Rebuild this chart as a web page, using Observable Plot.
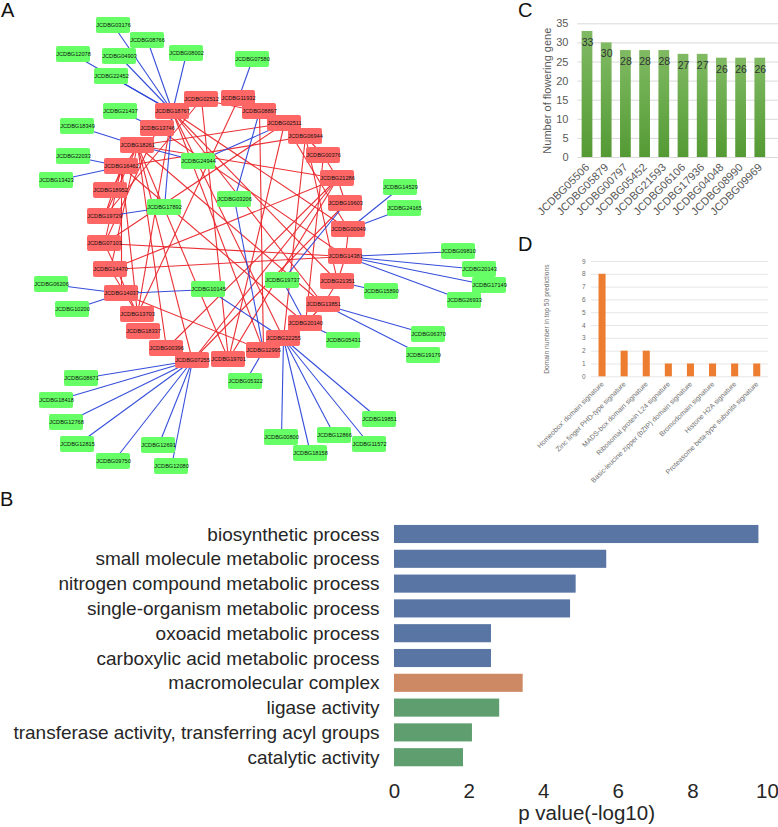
<!DOCTYPE html>
<html><head><meta charset="utf-8">
<style>
html,body{margin:0;padding:0;background:#fff}
#page{position:relative;width:778px;height:827px;overflow:hidden;font-family:"Liberation Sans",Arial,sans-serif}
.panel{position:absolute}
.panel svg{background:transparent!important;display:block}
.letter{position:absolute;font-size:20px;line-height:20px;color:#111}
</style>
<script src="https://cdn.jsdelivr.net/npm/d3@7"></script>
<script src="https://cdn.jsdelivr.net/npm/@observablehq/plot@0.6"></script>
</head><body><div id="page">
<div class="letter" style="left:1px;top:0">A</div>
<div class="letter" style="left:0px;top:489px">B</div>
<div class="letter" style="left:518px;top:0">C</div>
<div class="letter" style="left:518px;top:234px">D</div>
</div>
<script>
// Panel A: network, node layout
const hubNodes = [["02512",201,99],["11932",238,98],["18767",172,111],["13746",157,128],["18261",137,145],["16462",121,166],["18952",110,190],["19729",104,216],["07103",104,243],["14470",110,269],["14037",121,293],["13703",137,314],["18337",143,331],["00396",166,348],["07255",192,360],["19701",228,359],["12995",263,350],["22255",283,338],["20140",305,323],["13851",323,304],["21351",337,281],["14381",345,256],["00049",348,229],["19603",345,203],["21286",337,178],["00376",323,155],["06944",305,136],["02511",284,123],["08897",259,111]];
const leafNodes = [["03176",113,25],["08766",147,40],["04903",119,56],["08002",186,53],["12078",73,54],["22452",111,76],["07580",252,59],["21437",120,111],["18349",77,126],["22033",73,156],["13423",56,180],["24944",198,161],["17892",164,207],["03206",234,199],["06206",51,284],["10200",72,309],["10145",208,289],["08671",81,378],["18418",56,400],["12768",66,422],["12815",77,444],["09750",113,461],["12691",158,445],["12080",171,466],["05322",245,381],["09810",458,251],["20143",479,269],["17149",489,285],["26933",464,300],["15890",381,291],["19737",282,280],["05431",343,340],["06370",428,334],["19179",423,355],["19851",379,419],["12866",334,435],["11572",369,444],["00800",281,437],["18158",310,453],["14529",400,187],["24165",404,208]];
const blueEdges = [["03176","18767"],["08766","18767"],["04903","18767"],["08002","18767"],["22452","18767"],["12078","18767"],["07580","11932"],["21437","13746"],["18349","18261"],["22033","16462"],["13423","16462"],["24944","18261"],["24944","02511"],["17892","18767"],["17892","19729"],["03206","08897"],["03206","12995"],["06206","14037"],["10200","14037"],["10145","14037"],["10145","22255"],["08671","07255"],["18418","07255"],["12768","07255"],["12815","07255"],["09750","07255"],["12691","07255"],["12080","07255"],["05322","12995"],["09810","14381"],["20143","14381"],["17149","14381"],["26933","14381"],["15890","21351"],["06370","13851"],["19179","13851"],["05431","20140"],["19851","22255"],["12866","22255"],["11572","22255"],["00800","22255"],["18158","22255"],["14529","00049"],["24165","00049"],["19737","19603"],["19737","20140"]];
const redEdges = [["02512","08897"],["06944","00376"],["00376","21286"],["21286","19603"],["00049","14381"],["14381","21351"],["21351","13851"],["13851","20140"],["11932","13703"],["08897","12995"],["02511","19701"],["06944","22255"],["00376","20140"],["21286","07255"],["00396","21286"],["21286","14470"],["21286","18261"],["14381","07103"],["14381","14470"],["14037","12995"],["18261","02511"],["16462","06944"],["18261","19701"],["02512","19701"],["18261","07255"],["18261","00396"],["18767","12995"],["18767","00049"],["18261","13851"],["07103","02511"],["02511","00049"],["06944","21351"],["02512","19729"],["18767","13851"],["18767","21351"],["13746","14381"],["19701","21286"],["07255","19603"],["18261","19729"],["16462","19729"],["16462","07103"],["13746","07103"],["18261","14470"],["16462","14037"],["07103","13703"],["14470","13703"],["13703","18767"],["22255","18767"],["16462","20140"],["16462","13703"],["18952","18261"]];

// Panel B: enrichment
const goTerms = ["biosynthetic process","small molecule metabolic process","nitrogen compound metabolic process","single-organism metabolic process","oxoacid metabolic process","carboxylic acid metabolic process","macromolecular complex","ligase activity","transferase activity, transferring acyl groups","catalytic activity"];
const goValues = [9.77,5.69,4.87,4.72,2.6,2.6,3.45,2.82,2.09,1.85];
const goGroups = ["BP","BP","BP","BP","BP","BP","CC","MF","MF","MF"];
const goColors = {BP:"#5975a4",CC:"#cc8963",MF:"#5f9e6e"};

// Panel C: flowering genes
const geneIds = ["JCDBG05506","JCDBG05879","JCDBG00797","JCDBG05452","JCDBG21593","JCDBG06106","JCDBG17936","JCDBG04048","JCDBG08990","JCDBG09969"];
const geneCounts = [33,30,28,28,28,27,27,26,26,26];
const geneTicks = [0,5,10,15,20,25,30,35];

// Panel D: domains
const domainNames = ["Homeobox' domain signature","Zinc finger PHD-type signature","MADS-box domain signature","Ribosomal protein L24 signature","Basic-leucine zipper (bZIP) domain signature","Bromodomain signature","Histone H2A signature","Proteasome beta-type subunits signature"];
const domainCounts = [8,2,2,1,1,1,1,1];
const domainTicks = [0,1,2,3,4,5,6,7,8,9];

const FONT = '"Liberation Sans",Arial,sans-serif';
const page = document.getElementById("page");
function place(svg,left,top){const d=document.createElement("div");d.className="panel";d.style.left=left+"px";d.style.top=top+"px";d.appendChild(svg);page.appendChild(d);}

// ---- A
const pos = new Map([...hubNodes,...leafNodes].map(n=>[n[0],n]));
const edgeMark=(edges,stroke)=>Plot.link(edges,{x1:e=>pos.get(e[0])[1],y1:e=>pos.get(e[0])[2],x2:e=>pos.get(e[1])[1],y2:e=>pos.get(e[1])[2],stroke,strokeWidth:1.1,strokeOpacity:.95});
const nodeMark=(nodes,fill)=>Plot.rect(nodes,{x1:n=>n[1]-17,x2:n=>n[1]+17,y1:n=>n[2]-8,y2:n=>n[2]+8,fill,rx:2});
const nodeText=nodes=>Plot.text(nodes,{x:n=>n[1],y:n=>n[2],text:n=>"JCDBG"+n[0],fontSize:5.6,fill:"#111"});
place(Plot.plot({width:520,height:480,margin:0,style:{fontFamily:FONT,background:"transparent"},
  x:{domain:[0,520],axis:null},y:{domain:[0,480],reverse:true,axis:null},
  marks:[edgeMark(redEdges,"#e9262b"),edgeMark(blueEdges,"#2b45d8"),nodeMark(leafNodes,"#66ff66"),nodeMark(hubNodes,"#ff6666"),nodeText(leafNodes),nodeText(hubNodes)]}),0,0);

// ---- B
const goRows = goTerms.map((term,i)=>({term,value:goValues[i],group:goGroups[i]}));
place(Plot.plot({width:778,height:327,marginLeft:394,marginRight:11,marginTop:21.6,marginBottom:57.4,
  style:{fontFamily:FONT,background:"transparent",color:"#262626"},
  x:{domain:[0,10],ticks:[0,2,4,6,8,10]},y:{domain:goTerms,paddingInner:0.27,paddingOuter:0.135,align:0.5,round:false},
  marks:[
    Plot.barX(goRows,{x:"value",y:"term",fill:d=>goColors[d.group]}),
    Plot.axisY({tickSize:0,tickPadding:15,label:null,fontSize:19}),
    Plot.axisX({tickSize:0,tickPadding:13,label:null,fontSize:20.5}),
    Plot.text(["p value(-log10)"],{x:()=>5.15,frameAnchor:"bottom",dy:50,fontSize:20.5,fill:"#262626"})
  ]}),0,500);

// ---- C
const gradient=()=>{const s=d3.create("svg:defs");const g=s.append("linearGradient").attr("id","greenBar").attr("x1",0).attr("x2",0).attr("y1",0).attr("y2",1);
  g.append("stop").attr("offset","0%").attr("stop-color","#80ba63");g.append("stop").attr("offset","100%").attr("stop-color","#549a34");return s.node();};
const geneRows = geneIds.map((gene,i)=>({gene,count:geneCounts[i]}));
place(Plot.plot({width:268,height:235,marginLeft:67.4,marginRight:0,marginTop:23.3,marginBottom:78,
  style:{fontFamily:FONT,background:"transparent",color:"#595959"},
  x:{domain:geneIds,range:[67.4,259.4],paddingInner:0.44,paddingOuter:0.22,align:0.5,round:false},y:{domain:[0,35],ticks:geneTicks},
  marks:[gradient,
    Plot.ruleY(geneTicks,{stroke:"#d9d9d9"}),
    Plot.barY(geneRows,{x:"gene",y:"count",fill:"url(#greenBar)"}),
    Plot.text(geneRows,{x:"gene",y:"count",text:d=>String(d.count),dy:11,fontSize:10.5,fill:"#333"}),
    Plot.axisY(geneTicks,{anchor:"left",tickSize:0,tickPadding:9.4,label:null,fontSize:11}),
    Plot.axisX({tickSize:0,tickPadding:8,tickRotate:-45,label:null,fontSize:11}),
    Plot.text(["Number of flowering gene"],{frameAnchor:"left",textAnchor:"middle",dx:-30.4,rotate:-90,fontSize:11,fill:"#595959"})
  ]}),510,0);

// ---- D
const domainRows = domainNames.map((name,i)=>({name,count:domainCounts[i]}));
place(Plot.plot({width:268,height:255,marginLeft:81,marginRight:10,marginTop:26,marginBottom:113.7,
  style:{fontFamily:FONT,background:"transparent",color:"#6e6e6e"},
  x:{domain:domainNames,range:[81,257.8],paddingInner:0.68,paddingOuter:0.34,align:0.5,round:false},y:{domain:[0,9],ticks:domainTicks},
  marks:[
    Plot.ruleY(domainTicks,{stroke:"#e6e6e6"}),
    Plot.barY(domainRows,{x:"name",y:"count",fill:"#ed7d31"}),
    Plot.axisY(domainTicks,{anchor:"left",tickSize:0,tickPadding:6,label:null,fontSize:6.5}),
    Plot.axisX({tickSize:0,tickPadding:6,tickRotate:-45,label:null,fontSize:7}),
    Plot.text(["Domain number in top 50 predictions"],{frameAnchor:"left",textAnchor:"middle",dx:-45,rotate:-90,fontSize:6.7,fill:"#6e6e6e"})
  ]}),510,235);
</script></body></html>
